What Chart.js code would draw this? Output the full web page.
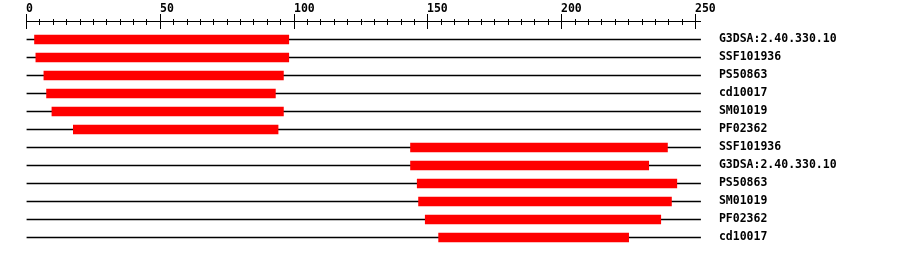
<!DOCTYPE html>
<html>
<head>
<meta charset="utf-8">
<script src="https://cdn.jsdelivr.net/npm/chart.js@4"></script>
<style>
  body { margin: 0; background: #fff; }
</style>
</head>
<body>
<canvas id="myChart" width="900" height="256"></canvas>
<script>
var rowLabels = ["G3DSA:2.40.330.10", "SSF101936", "PS50863", "cd10017", "SM01019", "PF02362",
                 "SSF101936", "G3DSA:2.40.330.10", "PS50863", "SM01019", "PF02362", "cd10017"];
var starts = [3, 3.5, 6.5, 7.5, 9.5, 17.5, 143.5, 143.5, 146, 146.5, 149, 154];
var ends   = [98, 98, 96, 93, 96, 94, 239.5, 232.5, 243, 241, 237, 225];
var seqLength = 252;
var tickLabels = [0, 50, 100, 150, 200, 250];
var minorStep = 5;

var font = 'bold 11.5px "DejaVu Sans Mono"';

// ruler across the top, drawn from the x scale
var ruler = {
  id: 'ruler',
  afterDraw: function (chart) {
    var sx = chart.scales.x;
    var ctx = chart.ctx;
    ctx.save();
    ctx.strokeStyle = '#000';
    ctx.lineWidth = 1;
    ctx.beginPath();
    ctx.moveTo(Math.floor(sx.left), 21.5);
    ctx.lineTo(Math.ceil(sx.right), 21.5);
    var last = tickLabels[tickLabels.length - 1];
    for (var v = 0; v <= last; v += minorStep) {
      var px = Math.floor(sx.getPixelForValue(v)) + 0.5;
      if (tickLabels.indexOf(v) >= 0) {
        ctx.moveTo(px, 14);
        ctx.lineTo(px, 29);
      } else {
        ctx.moveTo(px, 19);
        ctx.lineTo(px, 25);
      }
    }
    ctx.stroke();
    ctx.fillStyle = '#000';
    ctx.font = font;
    ctx.textAlign = 'left';
    ctx.textBaseline = 'alphabetic';
    tickLabels.forEach(function (t) {
      ctx.fillText(String(t), Math.floor(sx.getPixelForValue(t)), 12);
    });
    ctx.restore();
  }
};

new Chart(document.getElementById('myChart'), {
  type: 'bar',
  data: {
    labels: rowLabels,
    datasets: [{
      data: starts.map(function (s, i) { return [s, ends[i]]; }),
      backgroundColor: '#ff0000',
      barThickness: 9,
      grouped: false,
      order: 0
    }, {
      data: rowLabels.map(function () { return [0, seqLength]; }),
      backgroundColor: '#000',
      barThickness: 1,
      grouped: false,
      order: 1
    }]
  },
  options: {
    indexAxis: 'y',
    responsive: false,
    animation: false,
    layout: { padding: { left: 26.5, top: 30.5, bottom: 9.5, right: 0 } },
    plugins: { legend: { display: false }, tooltip: { enabled: false } },
    scales: {
      x: { display: false, min: 0, max: seqLength },
      y: {
        position: 'right',
        grid: { display: false, drawTicks: false },
        border: { display: false },
        ticks: { padding: 18, color: '#000', font: { family: 'DejaVu Sans Mono', size: 11.5, weight: 'bold' } },
        afterFit: function (s) {
          s.width = 199.1;
          // keep label padding from eating into the plot height
          s.paddingTop = 0;
          s.paddingBottom = 0;
        }
      }
    }
  },
  plugins: [ruler]
});
</script>
</body>
</html>
